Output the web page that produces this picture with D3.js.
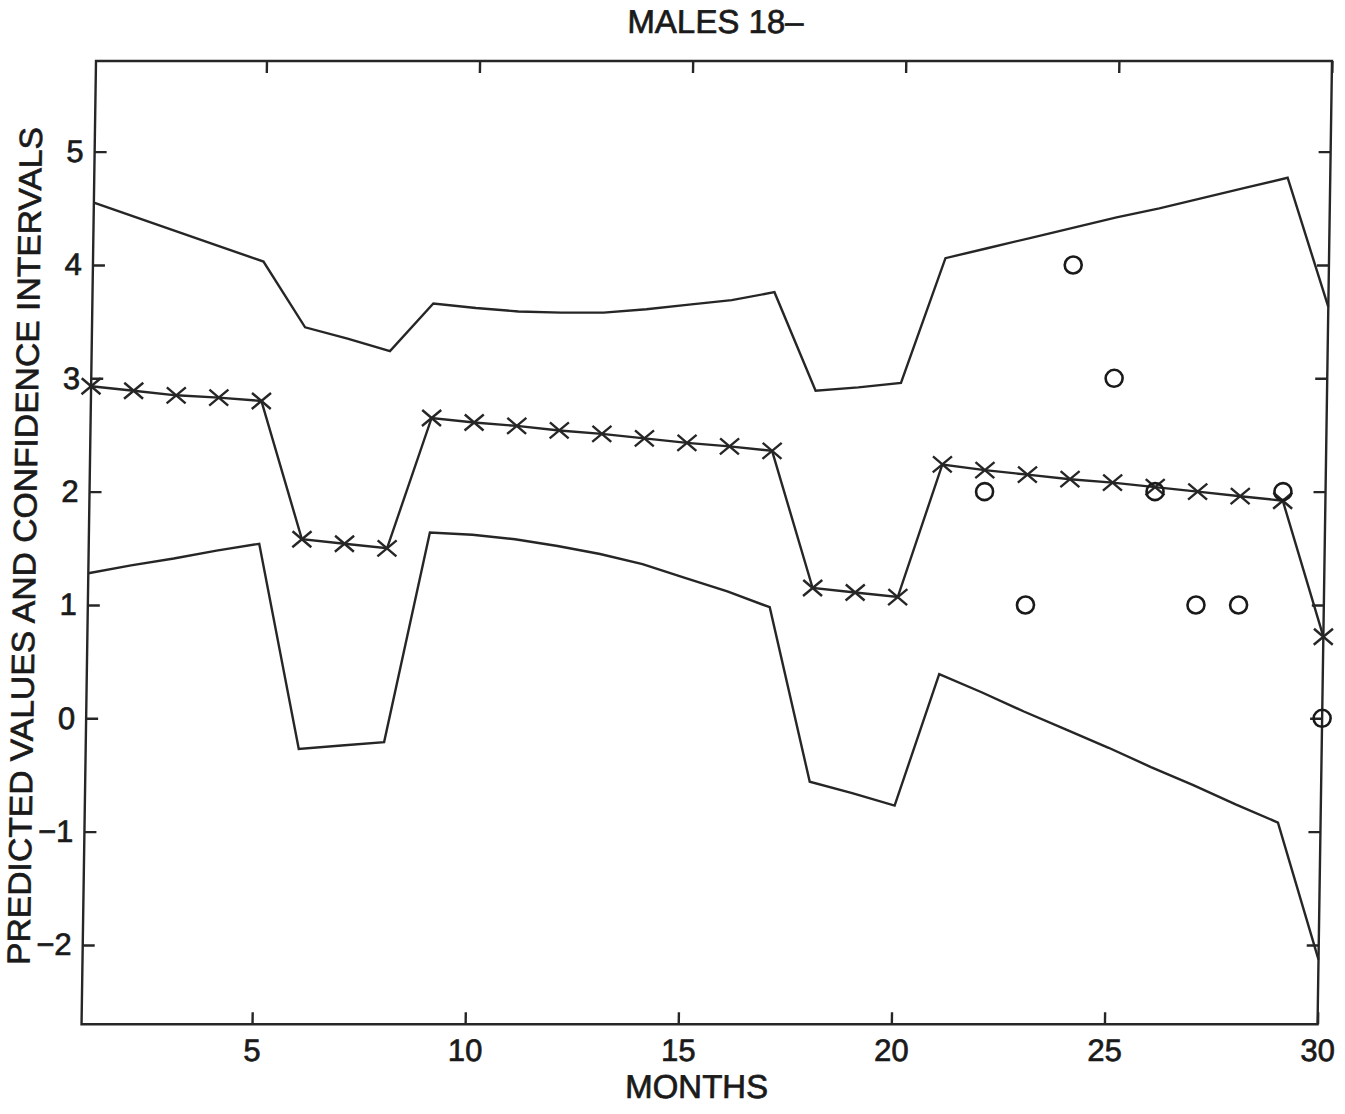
<!DOCTYPE html>
<html>
<head>
<meta charset="utf-8">
<script src="https://cdn.jsdelivr.net/npm/d3@7"></script>
<style>
  html, body { margin: 0; padding: 0; background: #fff; }
  svg { display: block; }
  text { font-family: "Liberation Sans", Arial, Helvetica, sans-serif; fill: #1a1a1a; stroke: #1a1a1a; stroke-width: 0.7px; }
</style>
</head>
<body>
<svg id="chart" width="1345" height="1114"></svg>
<script>
// ---- data ----
const months = [1,2,3,4,5,6,7,8,9,10,11,12,13,14,15,16,17,18,19,20,21,22,23,24,25,26,27,28,29,30];
const upperCI = [4.55,4.42,4.29,4.16,4.03,3.45,3.35,3.24,3.66,3.62,3.59,3.58,3.58,3.61,3.65,3.69,3.76,2.89,2.92,2.96,4.06,4.15,4.24,4.33,4.42,4.50,4.59,4.68,4.77,3.63];
const predicted = [2.93,2.89,2.85,2.83,2.80,1.58,1.54,1.50,2.65,2.61,2.58,2.54,2.51,2.47,2.43,2.40,2.36,1.15,1.11,1.07,2.24,2.19,2.15,2.11,2.08,2.04,2.00,1.96,1.92,0.72];
const lowerCI = [1.28,1.35,1.41,1.48,1.54,-0.27,-0.24,-0.21,1.64,1.62,1.58,1.52,1.45,1.36,1.24,1.12,0.98,-0.56,-0.66,-0.77,0.39,0.23,0.06,-0.10,-0.26,-0.43,-0.59,-0.76,-0.92,-2.13];
const obsMonths = [22,23,24,25,26,27,28,29,30];
const observed = [2,1,4,3,2,1,1,2,0];
const xTicks = [5,10,15,20,25,30];
const yTicks = [-2,-1,0,1,2,3,4,5];
const titleText = "MALES 18\u2013";
const xLabel = "MONTHS";
const yLabel = "PREDICTED VALUES AND CONFIDENCE INTERVALS";

// ---- layout ----
const L = 96, R = 1332, T = 61, B = 1024.3;
const svg = d3.select("#chart");
// the scanned original is slightly sheared
const g = svg.append("g").attr("transform", `translate(0,${T}) skewX(-0.86) translate(0,${-T})`);

const x = d3.scaleLinear().domain([1, 30]).range([L, R]);
const y = d3.scaleLinear().domain([-2.7, 5.8]).range([B, T]);

const ink = "#262626";
const lw = 2.4;

// frame
g.append("rect").attr("x", L).attr("y", T).attr("width", R - L).attr("height", B - T)
  .attr("fill", "none").attr("stroke", ink).attr("stroke-width", lw);

// axes
const fontSize = 31;
const ax = g.append("g").attr("transform", `translate(0,${B})`)
  .call(d3.axisBottom(x).tickValues(xTicks).tickFormat(d3.format("d")).tickSizeInner(-12).tickSizeOuter(0).tickPadding(15));
const ay = g.append("g").attr("transform", `translate(${L},0)`)
  .call(d3.axisLeft(y).tickValues(yTicks).tickFormat(d => d < 0 ? "\u2212" + Math.abs(d) : d).tickSizeInner(-12).tickSizeOuter(0).tickPadding(11));
const axTop = g.append("g").attr("transform", `translate(0,${T})`)
  .call(d3.axisTop(x).tickValues(xTicks).tickFormat("").tickSizeInner(-12).tickSizeOuter(0));
const ayR = g.append("g").attr("transform", `translate(${R},0)`)
  .call(d3.axisRight(y).tickValues(yTicks).tickFormat("").tickSizeInner(-12).tickSizeOuter(0));
[ax, ay, axTop, ayR].forEach(a => {
  a.attr("font-size", fontSize).attr("font-family", '"Liberation Sans", Arial, Helvetica, sans-serif');
  a.select(".domain").remove();
  a.selectAll(".tick line").attr("stroke", ink).attr("stroke-width", lw);
  a.selectAll(".tick text").attr("fill", "#1a1a1a");
});

// lines
const line = d3.line().x(d => x(d[0])).y(d => y(d[1]));
const series = [upperCI, predicted, lowerCI];
series.forEach(s => {
  g.append("path").datum(months.map((m, i) => [m, s[i]]))
    .attr("d", line).attr("fill", "none").attr("stroke", ink).attr("stroke-width", lw)
    .attr("stroke-linejoin", "miter");
});

// x markers on predicted
const hw = 9.5, hh = 8;
g.append("g").selectAll("path.xm").data(months.map((m, i) => [m, predicted[i]])).join("path")
  .attr("class", "xm")
  .attr("d", d => {
    const cx = x(d[0]), cy = y(d[1]);
    return `M${cx - hw},${cy - hh}L${cx + hw},${cy + hh}M${cx - hw},${cy + hh}L${cx + hw},${cy - hh}`;
  })
  .attr("stroke", ink).attr("stroke-width", lw).attr("fill", "none");

// observed circles
g.append("g").selectAll("circle").data(obsMonths.map((m, i) => [m, observed[i]])).join("circle")
  .attr("cx", d => x(d[0])).attr("cy", d => y(d[1])).attr("r", 8.5)
  .attr("fill", "none").attr("stroke", "#1a1a1a").attr("stroke-width", 2.6);

// title and labels
g.append("text").attr("x", 715).attr("y", 33).attr("text-anchor", "middle")
  .attr("font-size", 33).text(titleText);
g.append("text").attr("x", 712).attr("y", 1098).attr("text-anchor", "middle")
  .attr("font-size", 33).text(xLabel);
g.append("text").attr("transform", "translate(43,546) rotate(-90)").attr("text-anchor", "middle")
  .attr("font-size", 32).attr("textLength", 838).attr("lengthAdjust", "spacingAndGlyphs").text(yLabel);
</script>
</body>
</html>
